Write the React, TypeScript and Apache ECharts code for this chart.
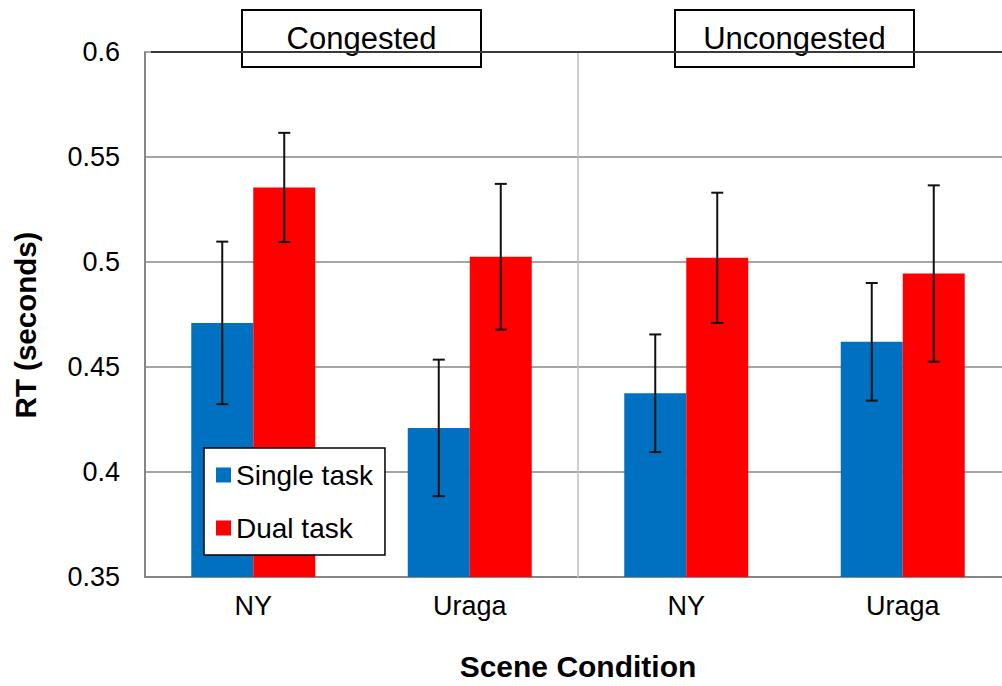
import React, { useEffect, useRef } from "react";
import * as echarts from "echarts";

const categories = ["NY", "Uraga", "NY", "Uraga"];
const groupLabels = ["Congested", "Uncongested"];
const seriesNames = ["Single task", "Dual task"];
const singleTask = [0.471, 0.421, 0.4375, 0.462];
const dualTask = [0.5355, 0.5025, 0.502, 0.4945];
const singleTaskErr = [0.0387, 0.0325, 0.028, 0.028];
const dualTaskErr = [0.026, 0.0347, 0.031, 0.042];
const yMin = 0.35;
const yMax = 0.6;
const yInterval = 0.05;
const yTitle = "RT (seconds)";
const xTitle = "Scene Condition";

const FONT = "'Liberation Sans', Arial, sans-serif";
const BLUE = "#0070C0";
const RED = "#FF0000";

function errorSeries(vals: number[], errs: number[], offset: number) {
  return {
    type: "custom",
    z: 3,
    silent: true,
    data: vals.map((v, i) => [i, v - errs[i], v + errs[i]]),
    encode: { x: 0, y: [1, 2] },
    renderItem: (params: any, api: any) => {
      const i = api.value(0);
      const lo = api.coord([i, api.value(1)]);
      const hi = api.coord([i, api.value(2)]);
      const x = lo[0] + offset;
      const cap = 6;
      const st = { stroke: "#111111", lineWidth: 2 };
      return {
        type: "group",
        children: [
          { type: "line", shape: { x1: x, y1: hi[1], x2: x, y2: lo[1] }, style: st },
          { type: "line", shape: { x1: x - cap, y1: hi[1], x2: x + cap, y2: hi[1] }, style: st },
          { type: "line", shape: { x1: x - cap, y1: lo[1], x2: x + cap, y2: lo[1] }, style: st },
        ],
      };
    },
  };
}

function groupBox(label: string, cx: number) {
  const w = 239;
  const h = 57;
  return {
    type: "group",
    z: 20,
    children: [
      {
        type: "rect",
        shape: { x: cx - w / 2, y: 10, width: w, height: h },
        style: { fill: "#ffffff", stroke: "#000000", lineWidth: 2 },
      },
      {
        type: "text",
        x: cx,
        y: 10 + h / 2,
        style: {
          text: label,
          fontSize: 31,
          fontFamily: FONT,
          fill: "#000000",
          align: "center",
          verticalAlign: "middle",
        },
      },
    ],
  };
}

export default function App() {
  const ref = useRef<HTMLDivElement>(null);
  useEffect(() => {
    document.body.style.margin = "0";
    document.body.style.overflow = "hidden";
    const chart = echarts.init(ref.current!, null, { renderer: "svg" });
    const gridLeft = 145;
    const gridTop = 52;
    const gridWidth = 866;
    const gridBottom = 108;
    const plotBottom = 686 - gridBottom;
    chart.setOption({
      animation: false,
      backgroundColor: "#ffffff",
      textStyle: { fontFamily: FONT },
      grid: { left: gridLeft, top: gridTop, width: gridWidth, bottom: gridBottom, containLabel: false },
      legend: {
        data: seriesNames,
        orient: "vertical",
        left: 204,
        top: 448,
        z: 10,
        icon: "rect",
        itemWidth: 15,
        itemHeight: 15,
        itemGap: 25,
        padding: [13, 12, 13, 12],
        backgroundColor: "#ffffff",
        borderColor: "#000000",
        borderWidth: 1.5,
        borderRadius: 0,
        textStyle: { fontSize: 28, fontFamily: FONT, color: "#000000" },
      },
      xAxis: {
        type: "category",
        data: categories,
        name: xTitle,
        nameLocation: "middle",
        nameGap: 74,
        nameTextStyle: { fontSize: 30, fontWeight: "bold", fontFamily: FONT, color: "#000000" },
        axisLine: { lineStyle: { color: "#868686", width: 2 } },
        axisTick: { show: false },
        axisLabel: { fontSize: 27, fontFamily: FONT, color: "#000000", margin: 15 },
        splitLine: { show: false },
      },
      yAxis: {
        type: "value",
        min: yMin,
        max: yMax,
        interval: yInterval,
        axisLine: { show: true, lineStyle: { color: "#868686", width: 2 } },
        axisTick: { show: false },
        axisLabel: {
          fontSize: 27,
          fontFamily: FONT,
          color: "#000000",
          margin: 25,
          formatter: (v: number) => String(Math.round(v * 100) / 100),
        },
        splitLine: { lineStyle: { color: "#878787", width: 1.5 } },
      },
      series: [
        {
          name: seriesNames[0],
          type: "bar",
          data: singleTask,
          barWidth: 62,
          barGap: "0%",
          itemStyle: { color: BLUE },
        },
        {
          name: seriesNames[1],
          type: "bar",
          data: dualTask,
          barWidth: 62,
          barGap: "0%",
          itemStyle: { color: RED },
        },
        errorSeries(singleTask, singleTaskErr, -31),
        errorSeries(dualTask, dualTaskErr, 31),
      ],
      graphic: [
        {
          type: "line",
          z: 1,
          shape: {
            x1: gridLeft + gridWidth / 2,
            y1: gridTop,
            x2: gridLeft + gridWidth / 2,
            y2: plotBottom,
          },
          style: { stroke: "#bfbfbf", lineWidth: 1.5 },
        },
        {
          type: "line",
          z: 15,
          shape: { x1: gridLeft + 6, y1: gridTop, x2: gridLeft + gridWidth, y2: gridTop },
          style: { stroke: "#3a3a3a", lineWidth: 2 },
        },
        {
          type: "text",
          x: 25,
          y: 325,
          rotation: Math.PI / 2,
          style: {
            text: yTitle,
            fontSize: 29.5,
            fontWeight: "bold",
            fontFamily: FONT,
            fill: "#000000",
            align: "center",
            verticalAlign: "middle",
          },
        },
        groupBox(groupLabels[0], gridLeft + gridWidth / 4),
        groupBox(groupLabels[1], gridLeft + (gridWidth * 3) / 4),
      ],
    });
    return () => chart.dispose();
  }, []);
  return <div ref={ref} style={{ width: 1012, height: 686 }} />;
}
